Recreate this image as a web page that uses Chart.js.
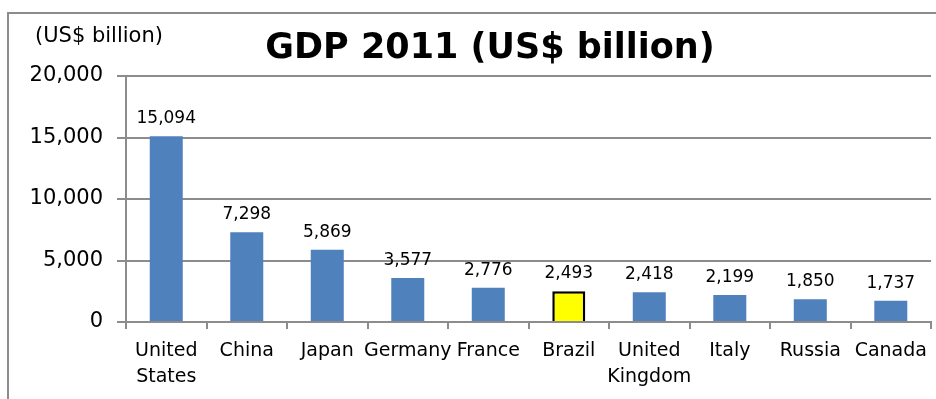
<!DOCTYPE html>
<html>
<head>
<meta charset="utf-8">
<script src="https://cdn.jsdelivr.net/npm/chart.js@4"></script>
<style>
  html, body { margin: 0; padding: 0; background: #fff; }
  #wrap { width: 936px; height: 399px; position: relative; }
</style>
</head>
<body>
<div id="wrap"><canvas id="gdp-chart"></canvas></div>
<script>
const countries = [['United', 'States'], 'China', 'Japan', 'Germany', 'France', 'Brazil', ['United', 'Kingdom'], 'Italy', 'Russia', 'Canada'];
const gdp2011 = [15094, 7298, 5869, 3577, 2776, 2493, 2418, 2199, 1850, 1737];
const yTicks = [0, 5000, 10000, 15000, 20000];
const highlight = 'Brazil';

const FONT = '"DejaVu Sans", sans-serif';
const fmt = v => v.toLocaleString('en-US');

const barColors = countries.map(c => c === highlight ? '#ffff00' : '#4f81bd');
const barBorders = countries.map(c => c === highlight ? '#000000' : '#4f81bd');
const barBorderWidths = countries.map(c => c === highlight ? 2.5 : 0);

// frame, headings and value labels
const decorations = {
  id: 'decorations',
  beforeDraw(chart) {
    const ctx = chart.ctx;
    ctx.save();
    ctx.strokeStyle = '#8c8c8c';
    ctx.lineWidth = 2;
    ctx.beginPath();
    ctx.moveTo(8, chart.height);
    ctx.lineTo(8, 13);
    ctx.lineTo(chart.width, 13);
    ctx.stroke();
    ctx.restore();
  },
  afterDatasetsDraw(chart) {
    const ctx = chart.ctx;
    ctx.save();
    ctx.fillStyle = '#000';
    ctx.textBaseline = 'alphabetic';

    ctx.font = 'bold 35px ' + FONT;
    ctx.textAlign = 'center';
    ctx.fillText('GDP 2011 (US$ billion)', 490, 58);

    ctx.font = '21px ' + FONT;
    ctx.textAlign = 'left';
    ctx.fillText('(US$ billion)', 35, 42);

    ctx.font = '17px ' + FONT;
    ctx.textAlign = 'center';
    chart.getDatasetMeta(0).data.forEach((bar, i) => {
      ctx.fillText(fmt(gdp2011[i]), bar.x, bar.y - 13);
    });
    ctx.restore();
  }
};

new Chart(document.getElementById('gdp-chart'), {
  type: 'bar',
  data: {
    labels: countries,
    datasets: [{
      label: 'GDP 2011',
      data: gdp2011,
      backgroundColor: barColors,
      borderColor: barBorders,
      borderWidth: barBorderWidths,
      categoryPercentage: 1,
      barPercentage: 0.41
    }]
  },
  options: {
    responsive: true,
    maintainAspectRatio: false,
    animation: false,
    layout: { padding: { top: 76, right: 1, left: 0, bottom: 0 } },
    plugins: {
      legend: { display: false },
      title: { display: false },
      tooltip: { enabled: false }
    },
    scales: {
      x: {
        offset: true,
        grid: {
          offset: true,
          drawOnChartArea: false,
          color: '#8c8c8c',
          lineWidth: 2,
          tickLength: 7
        },
        border: { color: '#8c8c8c', width: 2 },
        ticks: {
          color: '#000',
          font: { family: FONT, size: 19, lineHeight: 1.37 },
          padding: 9,
          maxRotation: 0,
          autoSkip: false
        },
        afterFit(scale) { scale.height = 77; }
      },
      y: {
        min: yTicks[0],
        max: yTicks[yTicks.length - 1],
        afterBuildTicks(scale) { scale.ticks = yTicks.map(v => ({ value: v })); },
        grid: { color: '#8c8c8c', lineWidth: 2, tickLength: 9 },
        border: { color: '#8c8c8c', width: 2 },
        ticks: {
          color: '#000',
          font: { family: FONT, size: 21 },
          padding: 14,
          callback: v => fmt(v)
        },
        afterFit(scale) { scale.width = 126; }
      }
    }
  },
  plugins: [decorations]
});
</script>
</body>
</html>
